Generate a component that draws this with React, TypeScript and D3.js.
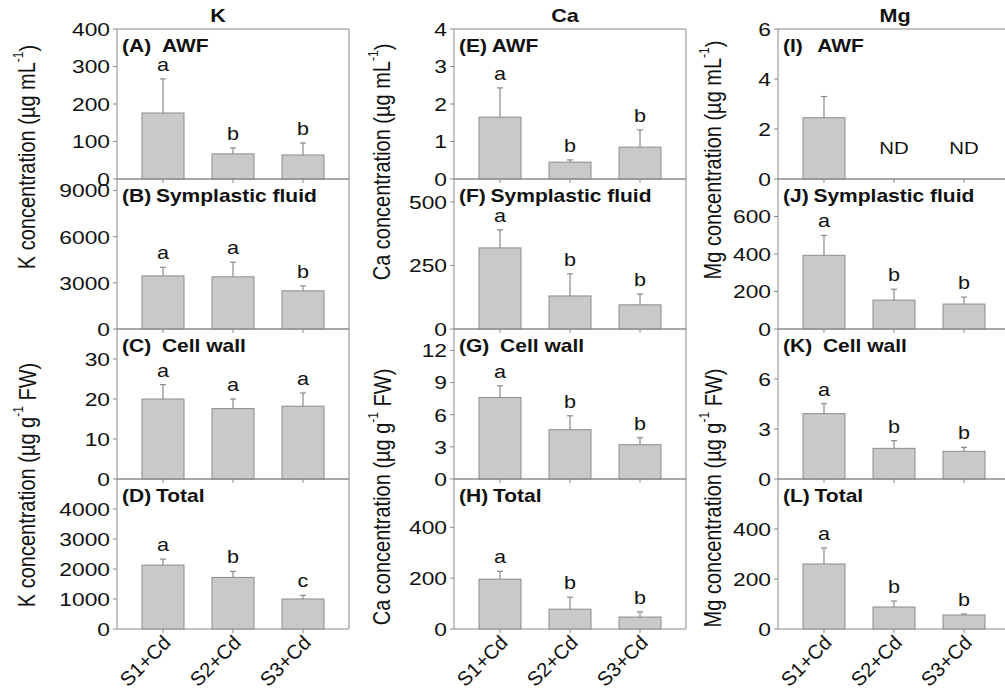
import React from "react";
import * as d3 from "d3";

// ---------- data ----------
const categories = ["S1+Cd", "S2+Cd", "S3+Cd"];
const elements = ["K", "Ca", "Mg"];
const fractions = ["AWF", "Symplastic fluid", "Cell wall", "Total"];
const panelLetters = [
  ["A", "B", "C", "D"],
  ["E", "F", "G", "H"],
  ["I", "J", "K", "L"],
];

const kAwf = [176, 67, 64];
const kAwfErr = [91, 16, 32];
const kAwfSig = ["a", "b", "b"];
const kSym = [3450, 3390, 2480];
const kSymErr = [560, 950, 320];
const kSymSig = ["a", "a", "b"];
const kWall = [20.0, 17.6, 18.2];
const kWallErr = [3.6, 2.4, 3.3];
const kWallSig = ["a", "a", "a"];
const kTot = [2130, 1720, 1000];
const kTotErr = [200, 200, 120];
const kTotSig = ["a", "b", "c"];

const caAwf = [1.65, 0.45, 0.85];
const caAwfErr = [0.78, 0.06, 0.46];
const caAwfSig = ["a", "b", "b"];
const caSym = [319, 130, 95];
const caSymErr = [71, 87, 43];
const caSymSig = ["a", "b", "b"];
const caWall = [7.6, 4.6, 3.2];
const caWallErr = [1.1, 1.3, 0.65];
const caWallSig = ["a", "b", "b"];
const caTot = [196, 78, 47];
const caTotErr = [31, 47, 20];
const caTotSig = ["a", "b", "b"];

const mgAwf = [2.45, null, null];
const mgAwfErr = [0.85, null, null];
const mgAwfSig = ["", "ND", "ND"];
const mgSym = [393, 154, 133];
const mgSymErr = [106, 58, 37];
const mgSymSig = ["a", "b", "b"];
const mgWall = [3.92, 1.84, 1.66];
const mgWallErr = [0.6, 0.46, 0.24];
const mgWallSig = ["a", "b", "b"];
const mgTot = [260, 88, 56];
const mgTotErr = [64, 24, 4];
const mgTotSig = ["a", "b", "b"];

// axis extents and tick labels
const kMax = [400, 9750, 37.5, 5000];
const caMax = [4, 590, 14, 590];
const mgMax = [6, 800, 9, 600];
const kTicks = [[0, 100, 200, 300, 400], [0, 3000, 6000, 9000], [0, 10, 20, 30], [0, 1000, 2000, 3000, 4000]];
const caTicks = [[0, 1, 2, 3, 4], [0, 250, 500], [0, 3, 6, 9, 12], [0, 200, 400]];
const mgTicks = [[0, 2, 4, 6], [0, 200, 400, 600], [0, 3, 6], [0, 200, 400]];

const series = [
  [
    { v: kAwf, e: kAwfErr, s: kAwfSig },
    { v: kSym, e: kSymErr, s: kSymSig },
    { v: kWall, e: kWallErr, s: kWallSig },
    { v: kTot, e: kTotErr, s: kTotSig },
  ],
  [
    { v: caAwf, e: caAwfErr, s: caAwfSig },
    { v: caSym, e: caSymErr, s: caSymSig },
    { v: caWall, e: caWallErr, s: caWallSig },
    { v: caTot, e: caTotErr, s: caTotSig },
  ],
  [
    { v: mgAwf, e: mgAwfErr, s: mgAwfSig },
    { v: mgSym, e: mgSymErr, s: mgSymSig },
    { v: mgWall, e: mgWallErr, s: mgWallSig },
    { v: mgTot, e: mgTotErr, s: mgTotSig },
  ],
];
const maxes = [kMax, caMax, mgMax];
const ticks = [kTicks, caTicks, mgTicks];

// ---------- layout ----------
const W = 1005;
const H = 693;
const colLeft = [117, 454, 778];
const panelW = 232;
const top0 = 29;
const panelH = 150;
const titleX = [218, 565, 895];
const yTitleX = [27, 382, 713];
const yTitleTopY = [157, 162, 160];
const yTitleBotY = [485, 497, 498];
const labelGap = [
  [5, 0, 5, 0],
  [0, 0, 5, 0],
  [8, 0, 5, 0],
];
const SX = 1.2; // horizontal stretch of the lettering

const FONT = "'Liberation Sans', Arial, sans-serif";
const AXIS = "#8a8a8a";
const BAR = "#c9c9c9";
const BAR_STROKE = "#8c8c8c";

function T({
  x,
  y,
  size,
  anchor = "start",
  bold = false,
  dy,
  children,
}: {
  x: number;
  y: number;
  size: number;
  anchor?: string;
  bold?: boolean;
  dy?: string;
  children: any;
}) {
  return (
    <g transform={`translate(${x},${y}) scale(${SX},1)`}>
      <text
        dy={dy}
        textAnchor={anchor}
        fontSize={size}
        fontWeight={bold ? "bold" : "normal"}
        fontFamily={FONT}
        fill="#111"
      >
        {children}
      </text>
    </g>
  );
}

function Panel({ col, row }: { col: number; row: number }) {
  const x0 = colLeft[col];
  const y0 = top0 + row * panelH;
  const yb = y0 + panelH;
  const x = d3
    .scaleBand<string>()
    .domain(categories)
    .range([x0, x0 + panelW])
    .paddingInner(0.4)
    .paddingOuter(0.357);
  const y = d3.scaleLinear().domain([0, maxes[col][row]]).range([yb, y0]);
  const d = series[col][row];
  return (
    <g>
      {/* frame */}
      <line x1={x0} x2={x0 + panelW} y1={y0} y2={y0} stroke={AXIS} strokeWidth={1} />
      <line x1={x0} x2={x0 + panelW} y1={yb} y2={yb} stroke={AXIS} strokeWidth={1} />
      <line x1={x0} x2={x0} y1={y0} y2={yb} stroke={AXIS} strokeWidth={1} />
      <line x1={x0 + panelW} x2={x0 + panelW} y1={y0} y2={yb} stroke={AXIS} strokeWidth={1} />
      {/* y ticks */}
      {ticks[col][row].map((t) => (
        <g key={t}>
          <line x1={x0 - 4} x2={x0} y1={y(t)} y2={y(t)} stroke={AXIS} />
          <T x={x0 - 7} y={y(t)} dy="0.36em" anchor="end" size={19}>
            {t}
          </T>
        </g>
      ))}
      {/* x ticks */}
      {categories.map((c) => (
        <line
          key={c}
          x1={x.bandwidth() / 2 + (x(c) as number)}
          x2={x.bandwidth() / 2 + (x(c) as number)}
          y1={yb}
          y2={yb + 4}
          stroke={AXIS}
        />
      ))}
      {/* bars */}
      {categories.map((c, i) => {
        const v = d.v[i];
        const cx = (x(c) as number) + x.bandwidth() / 2;
        if (v == null) {
          return (
            <T key={c} x={cx} y={y(0) - 25} anchor="middle" size={17}>
              {d.s[i]}
            </T>
          );
        }
        const e = d.e[i] as number;
        const yTop = y(v + e);
        return (
          <g key={c}>
            <rect
              x={x(c)}
              y={y(v)}
              width={x.bandwidth()}
              height={y(0) - y(v)}
              fill={BAR}
              stroke={BAR_STROKE}
              strokeWidth={1}
            />
            <line x1={cx} x2={cx} y1={y(v)} y2={yTop} stroke={AXIS} strokeWidth={1.2} />
            <line x1={cx - 3} x2={cx + 3} y1={yTop} y2={yTop} stroke={AXIS} strokeWidth={1.2} />
            {d.s[i] ? (
              <T x={cx} y={yTop - 8} anchor="middle" size={18}>
                {d.s[i]}
              </T>
            ) : null}
          </g>
        );
      })}
      {/* panel label */}
      <T x={x0 + 5} y={y0 + 23} size={17.5} bold>
        {`(${panelLetters[col][row]})`}
        <tspan dx={labelGap[col][row] + 4}>{fractions[row]}</tspan>
      </T>
      {/* category labels */}
      {row === 3 &&
        categories.map((c) => {
          const cx = (x(c) as number) + x.bandwidth() / 2;
          return (
            <text
              key={c}
              transform={`translate(${cx + 9},${yb + 15}) rotate(-45)`}
              textAnchor="end"
              fontSize={20}
              fontFamily={FONT}
              fill="#111"
            >
              {c}
            </text>
          );
        })}
    </g>
  );
}

function YTitle({ x, y, el, bottom }: { x: number; y: number; el: string; bottom: boolean }) {
  return (
    <g transform={`translate(${x},${y}) scale(${SX},1) rotate(-90)`}>
      <text
        textAnchor="middle"
        dominantBaseline="central"
        fontSize={20}
        fontFamily={FONT}
        fill="#111"
      >
        {`${el} concentration (\u00b5g ${bottom ? "g" : "mL"}`}
        <tspan fontSize={12} dy={-8}>
          -1
        </tspan>
        <tspan dy={8}>{bottom ? " FW)" : ")"}</tspan>
      </text>
    </g>
  );
}

export default function App() {
  return (
    <svg
      width={W}
      height={H}
      style={{ position: "absolute", left: 0, top: 0, background: "#fff" }}
    >
      <rect width={W} height={H} fill="#fff" />
      {elements.map((el, col) => (
        <g key={el}>
          <T x={titleX[col]} y={22} anchor="middle" size={18} bold>
            {el}
          </T>
          {[0, 1, 2, 3].map((row) => (
            <Panel key={row} col={col} row={row} />
          ))}
          <YTitle x={yTitleX[col]} y={yTitleTopY[col]} el={el} bottom={false} />
          <YTitle x={yTitleX[col]} y={yTitleBotY[col]} el={el} bottom={true} />
        </g>
      ))}
    </svg>
  );
}
